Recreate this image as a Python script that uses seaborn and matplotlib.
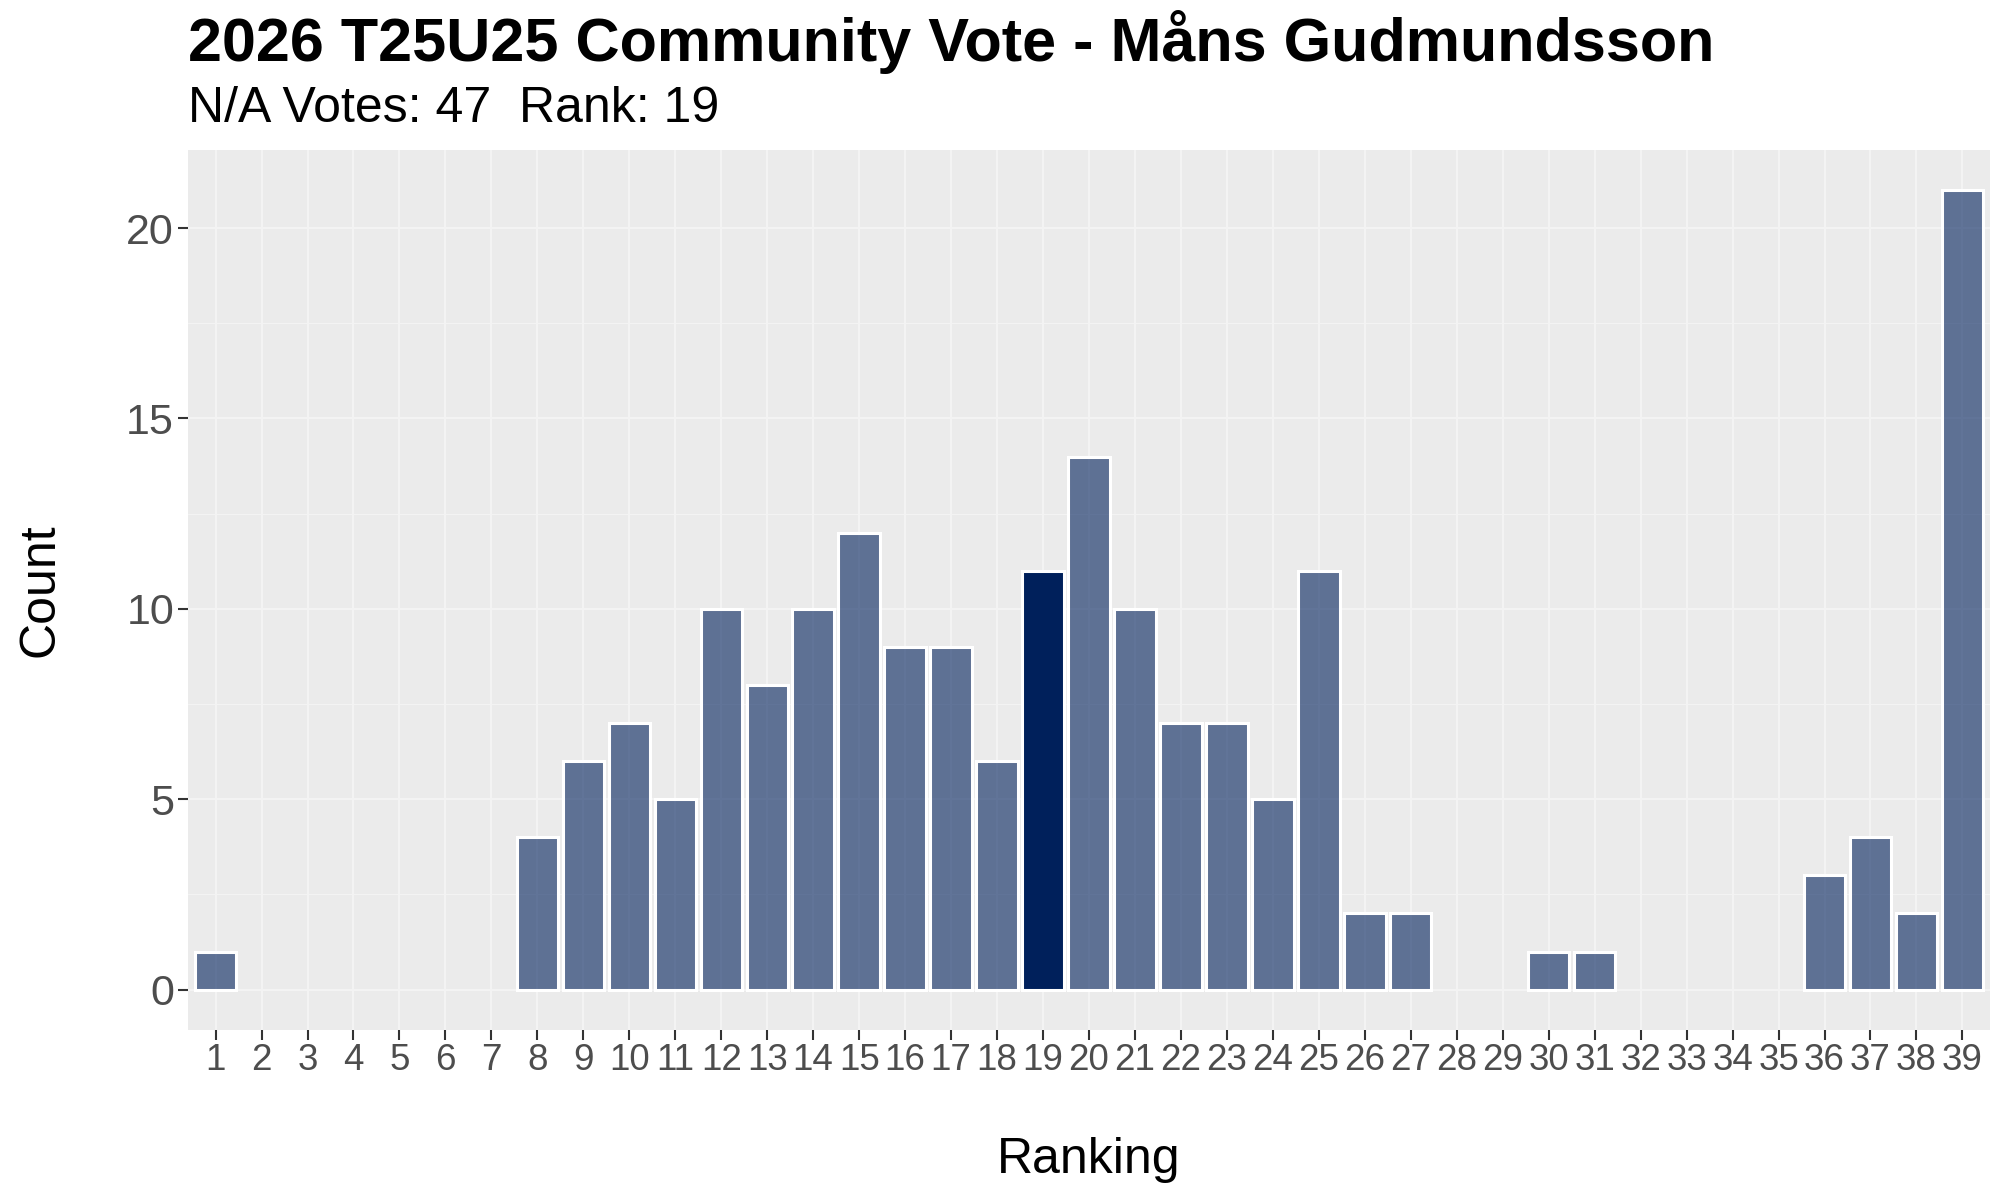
import numpy as np
import pandas as pd
import matplotlib.pyplot as plt
import seaborn as sns

RANKINGS = list(range(1, 40))
COUNTS = [1, 0, 0, 0, 0, 0, 0, 4, 6, 7,
          5, 10, 8, 10, 12, 9, 9, 6, 11, 14,
          10, 7, 7, 5, 11, 2, 2, 0, 0, 1,
          1, 0, 0, 0, 0, 3, 4, 2, 21]
HIGHLIGHT_RANK = 19
NA_VOTES = 47

TITLE = "2026 T25U25 Community Vote - Måns Gudmundsson"
SUBTITLE = f"N/A Votes: {NA_VOTES}  Rank: {HIGHLIGHT_RANK}"

BAR_COLOR = "#00205B"

df = pd.DataFrame({"ranking": RANKINGS, "count": COUNTS})
df["highlight"] = df["ranking"] == HIGHLIGHT_RANK

sns.set_theme(style="darkgrid")
plt.rcParams["font.family"] = ["Liberation Sans", "DejaVu Sans"]
plt.rcParams["text.color"] = "black"
plt.rcParams["axes.labelcolor"] = "black"

fig = plt.figure(figsize=(20, 12), dpi=100)
ax = fig.add_axes([0.094, 0.142, 0.901, 0.733])
ax.set_facecolor("#EBEBEB")

# plain bars (skip zero counts so no edge line is drawn at 0)
for is_hl, alpha in [(False, 0.6), (True, 1.0)]:
    sub = df[(df["highlight"] == is_hl) & (df["count"] > 0)]
    ax.bar(sub["ranking"], sub["count"], width=0.9, color=BAR_COLOR,
           alpha=alpha, edgecolor="none", zorder=3)
    ax.bar(sub["ranking"], sub["count"], width=0.9, facecolor="none",
           edgecolor="white", linewidth=2.2, zorder=4)

ax.set_xlim(0.4, 39.6)
ax.set_ylim(-1.05, 22.05)
ax.set_xticks(RANKINGS)
ax.set_xticklabels([str(r) for r in RANKINGS])
ax.set_yticks([0, 5, 10, 15, 20])
ax.set_yticks([2.5, 7.5, 12.5, 17.5], minor=True)

ax.grid(which="major", color="#F3F3F3", linewidth=1.6, zorder=0)
ax.grid(which="minor", axis="y", color="#F3F3F3", linewidth=0.8, zorder=0)
ax.set_axisbelow(True)
for s in ax.spines.values():
    s.set_visible(False)

ax.tick_params(axis="both", which="major", bottom=True, left=True, length=7,
               width=1.5, color="#333333", labelcolor="#4D4D4D", pad=3)
ax.tick_params(axis="y", which="minor", left=False, length=0)
ax.tick_params(axis="x", labelsize=26.5)
ax.tick_params(axis="y", labelsize=31)

ax.set_xlabel("Ranking", fontsize=36, labelpad=42)
ax.set_ylabel("Count", fontsize=36, labelpad=45)

fig.text(0.094, 0.949, TITLE, fontsize=44, fontweight="bold", ha="left", va="baseline")
fig.text(0.094, 0.898, SUBTITLE, fontsize=36, ha="left", va="baseline")

fig.savefig("out.png", dpi=100)
